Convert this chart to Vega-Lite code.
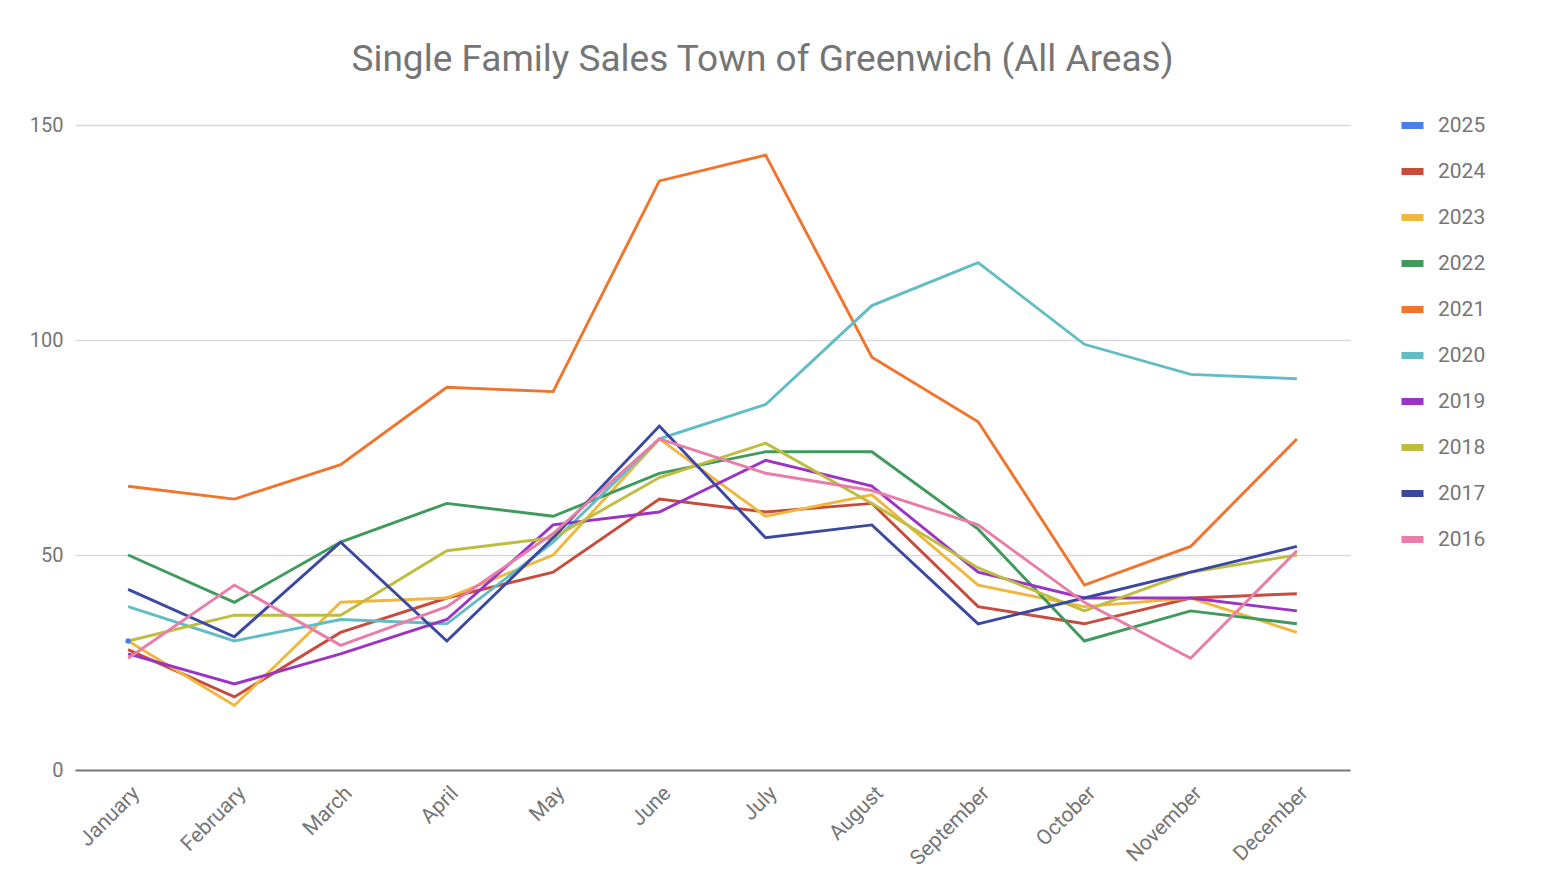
{
  "$schema": "https://vega.github.io/schema/vega-lite/v6.json",
  "autosize": {"type": "none"},
  "width": 1275,
  "height": 645,
  "padding": {"left": 75, "top": 125, "right": 194, "bottom": 124},
  "background": "white",
  "title": {
    "text": "Single Family Sales Town of Greenwich (All Areas)",
    "font": "Roboto",
    "fontSize": 37,
    "fontWeight": "normal",
    "color": "#757575",
    "anchor": "middle",
    "frame": "group",
    "dx": 50,
    "offset": 32
  },
  "config": {
    "view": {"stroke": null},
    "axis": {"labelFont": "Roboto", "labelColor": "#757575", "labelFontSize": 20, "ticks": false, "title": null}
  },
  "data": {
    "values": [
      {"month": "January", "year": "2025", "sales": 30},

      {"month": "January", "year": "2024", "sales": 28},
      {"month": "February", "year": "2024", "sales": 17},
      {"month": "March", "year": "2024", "sales": 32},
      {"month": "April", "year": "2024", "sales": 40},
      {"month": "May", "year": "2024", "sales": 46},
      {"month": "June", "year": "2024", "sales": 63},
      {"month": "July", "year": "2024", "sales": 60},
      {"month": "August", "year": "2024", "sales": 62},
      {"month": "September", "year": "2024", "sales": 38},
      {"month": "October", "year": "2024", "sales": 34},
      {"month": "November", "year": "2024", "sales": 40},
      {"month": "December", "year": "2024", "sales": 41},

      {"month": "January", "year": "2023", "sales": 30},
      {"month": "February", "year": "2023", "sales": 15},
      {"month": "March", "year": "2023", "sales": 39},
      {"month": "April", "year": "2023", "sales": 40},
      {"month": "May", "year": "2023", "sales": 50},
      {"month": "June", "year": "2023", "sales": 77},
      {"month": "July", "year": "2023", "sales": 59},
      {"month": "August", "year": "2023", "sales": 64},
      {"month": "September", "year": "2023", "sales": 43},
      {"month": "October", "year": "2023", "sales": 38},
      {"month": "November", "year": "2023", "sales": 40},
      {"month": "December", "year": "2023", "sales": 32},

      {"month": "January", "year": "2022", "sales": 50},
      {"month": "February", "year": "2022", "sales": 39},
      {"month": "March", "year": "2022", "sales": 53},
      {"month": "April", "year": "2022", "sales": 62},
      {"month": "May", "year": "2022", "sales": 59},
      {"month": "June", "year": "2022", "sales": 69},
      {"month": "July", "year": "2022", "sales": 74},
      {"month": "August", "year": "2022", "sales": 74},
      {"month": "September", "year": "2022", "sales": 56},
      {"month": "October", "year": "2022", "sales": 30},
      {"month": "November", "year": "2022", "sales": 37},
      {"month": "December", "year": "2022", "sales": 34},

      {"month": "January", "year": "2021", "sales": 66},
      {"month": "February", "year": "2021", "sales": 63},
      {"month": "March", "year": "2021", "sales": 71},
      {"month": "April", "year": "2021", "sales": 89},
      {"month": "May", "year": "2021", "sales": 88},
      {"month": "June", "year": "2021", "sales": 137},
      {"month": "July", "year": "2021", "sales": 143},
      {"month": "August", "year": "2021", "sales": 96},
      {"month": "September", "year": "2021", "sales": 81},
      {"month": "October", "year": "2021", "sales": 43},
      {"month": "November", "year": "2021", "sales": 52},
      {"month": "December", "year": "2021", "sales": 77},

      {"month": "January", "year": "2020", "sales": 38},
      {"month": "February", "year": "2020", "sales": 30},
      {"month": "March", "year": "2020", "sales": 35},
      {"month": "April", "year": "2020", "sales": 34},
      {"month": "May", "year": "2020", "sales": 53},
      {"month": "June", "year": "2020", "sales": 77},
      {"month": "July", "year": "2020", "sales": 85},
      {"month": "August", "year": "2020", "sales": 108},
      {"month": "September", "year": "2020", "sales": 118},
      {"month": "October", "year": "2020", "sales": 99},
      {"month": "November", "year": "2020", "sales": 92},
      {"month": "December", "year": "2020", "sales": 91},

      {"month": "January", "year": "2019", "sales": 27},
      {"month": "February", "year": "2019", "sales": 20},
      {"month": "March", "year": "2019", "sales": 27},
      {"month": "April", "year": "2019", "sales": 35},
      {"month": "May", "year": "2019", "sales": 57},
      {"month": "June", "year": "2019", "sales": 60},
      {"month": "July", "year": "2019", "sales": 72},
      {"month": "August", "year": "2019", "sales": 66},
      {"month": "September", "year": "2019", "sales": 46},
      {"month": "October", "year": "2019", "sales": 40},
      {"month": "November", "year": "2019", "sales": 40},
      {"month": "December", "year": "2019", "sales": 37},

      {"month": "January", "year": "2018", "sales": 30},
      {"month": "February", "year": "2018", "sales": 36},
      {"month": "March", "year": "2018", "sales": 36},
      {"month": "April", "year": "2018", "sales": 51},
      {"month": "May", "year": "2018", "sales": 54},
      {"month": "June", "year": "2018", "sales": 68},
      {"month": "July", "year": "2018", "sales": 76},
      {"month": "August", "year": "2018", "sales": 62},
      {"month": "September", "year": "2018", "sales": 47},
      {"month": "October", "year": "2018", "sales": 37},
      {"month": "November", "year": "2018", "sales": 46},
      {"month": "December", "year": "2018", "sales": 50},

      {"month": "January", "year": "2017", "sales": 42},
      {"month": "February", "year": "2017", "sales": 31},
      {"month": "March", "year": "2017", "sales": 53},
      {"month": "April", "year": "2017", "sales": 30},
      {"month": "May", "year": "2017", "sales": 54},
      {"month": "June", "year": "2017", "sales": 80},
      {"month": "July", "year": "2017", "sales": 54},
      {"month": "August", "year": "2017", "sales": 57},
      {"month": "September", "year": "2017", "sales": 34},
      {"month": "October", "year": "2017", "sales": 40},
      {"month": "November", "year": "2017", "sales": 46},
      {"month": "December", "year": "2017", "sales": 52},

      {"month": "January", "year": "2016", "sales": 26},
      {"month": "February", "year": "2016", "sales": 43},
      {"month": "March", "year": "2016", "sales": 29},
      {"month": "April", "year": "2016", "sales": 38},
      {"month": "May", "year": "2016", "sales": 55},
      {"month": "June", "year": "2016", "sales": 77},
      {"month": "July", "year": "2016", "sales": 69},
      {"month": "August", "year": "2016", "sales": 65},
      {"month": "September", "year": "2016", "sales": 57},
      {"month": "October", "year": "2016", "sales": 39},
      {"month": "November", "year": "2016", "sales": 26},
      {"month": "December", "year": "2016", "sales": 51}
    ]
  },
  "encoding": {
    "x": {
      "field": "month",
      "type": "nominal",
      "sort": ["January", "February", "March", "April", "May", "June", "July", "August", "September", "October", "November", "December"],
      "scale": {"type": "point", "padding": 0.5},
      "axis": {
        "labelAngle": -45,
        "labelAlign": "right",
        "labelBaseline": "top",
        "labelPadding": 12,
        "labelFontSize": 21,
        "domainColor": "#7a7a7a",
        "domainWidth": 2,
        "grid": false
      }
    },
    "y": {
      "field": "sales",
      "type": "quantitative",
      "scale": {"domain": [0, 150], "nice": false},
      "axis": {
        "values": [0, 50, 100, 150],
        "domain": false,
        "labelPadding": 12,
        "gridColor": "#d9d9d9",
        "gridWidth": 1.5
      }
    },
    "color": {
      "field": "year",
      "type": "nominal",
      "scale": {
        "domain": ["2025", "2024", "2023", "2022", "2021", "2020", "2019", "2018", "2017", "2016"],
        "range": ["#4a7fe9", "#c84b3c", "#efb73e", "#3f9a5c", "#f2742c", "#61bdc5", "#9b34c5", "#bfbd3f", "#3b48a2", "#e87ea8"]
      },
      "legend": {
        "title": null,
        "orient": "none",
        "legendX": 1323,
        "legendY": -14,
        "symbolType": "stroke",
        "symbolSize": 484,
        "symbolStrokeWidth": 7,
        "labelFont": "Roboto",
        "labelFontSize": 21,
        "labelColor": "#757575",
        "labelOffset": 11,
        "rowPadding": 17
      }
    }
  },
  "layer": [
    {
      "mark": {"type": "line", "strokeWidth": 2.9}
    },
    {
      "transform": [{"filter": "datum.year === '2025'"}],
      "mark": {"type": "point", "filled": true, "size": 30, "opacity": 1}
    }
  ]
}
